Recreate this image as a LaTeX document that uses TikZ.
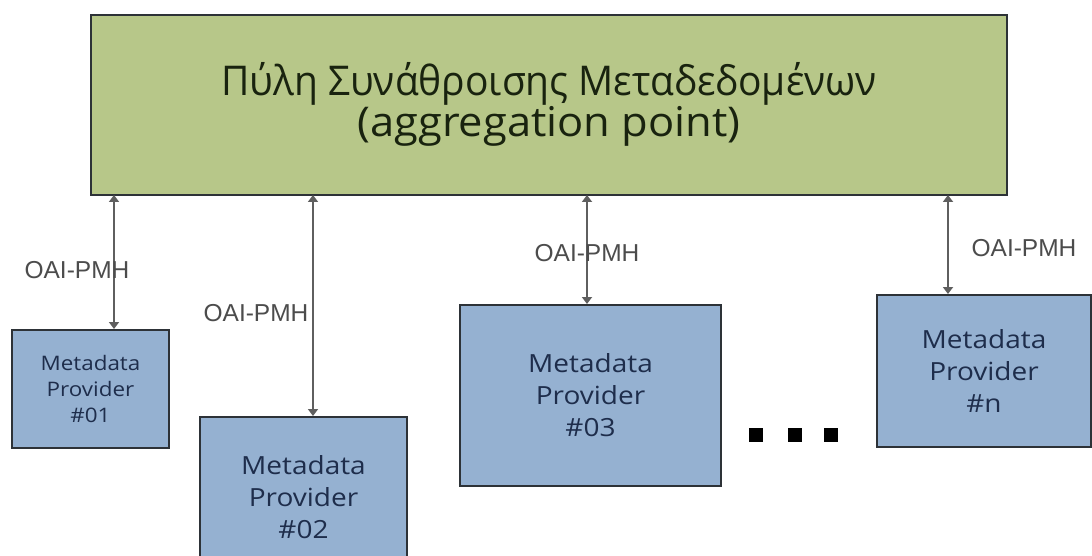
\documentclass[tikz,border=0pt]{standalone}
\usepackage{fontspec}
\setmainfont{Open Sans}
\newfontfamily\titlefont[FakeStretch=0.95]{Open Sans}
\newfontfamily\titlefontb[FakeStretch=1.06]{Open Sans}
\newfontfamily\provfont[FakeStretch=1.12]{Open Sans}
\newfontfamily\labfont{Liberation Sans}
\usetikzlibrary{arrows.meta}
\definecolor{topgreen}{RGB}{183,199,137}
\definecolor{provblue}{RGB}{149,177,209}
\definecolor{provtext}{RGB}{30,45,75}
\definecolor{arrowgray}{RGB}{95,95,95}
\definecolor{boxborder}{RGB}{45,50,55}
\definecolor{titletext}{RGB}{25,35,15}
\begin{document}
\begin{tikzpicture}[x=1pt,y=-1pt,
  topbox/.style={draw=boxborder, line width=2pt, fill=topgreen, inner sep=0pt},
  titletxt/.style={align=center, text=titletext, inner sep=0pt, font=\titlefont\fontsize{41}{38}\selectfont},
  provbox/.style={draw=boxborder, line width=2pt, fill=provblue, inner sep=0pt, align=center, text=provtext},
  link/.style={draw=arrowgray, line width=1.8pt, {Triangle[width=10pt,length=7pt]}-{Triangle[width=10pt,length=7pt]}},
  proto/.style={font=\labfont\fontsize{24.5}{28}\selectfont, text=black!70, inner sep=1pt},
  dotsq/.style={fill=black, minimum size=14pt, inner sep=0pt}
]
\useasboundingbox (0,0) rectangle (1092,556);
\fill[white] (0,0) rectangle (1092,556);

\node[topbox, minimum width=916pt, minimum height=180pt] (top) at (549,105) {};
\node[titletxt] (title) at (549,104) {Πύλη Συνάθροισης Μεταδεδομένων\\{\titlefontb(aggregation point)}};

\node[provbox, minimum width=157pt, minimum height=118pt, font=\provfont\fontsize{20}{26}\selectfont] (p1) at (90.5,389) {Metadata\\Provider\\\#01};
\node[provbox, minimum width=207pt, minimum height=160pt, font=\provfont\fontsize{25}{32}\selectfont, anchor=north] (p2) at (303.5,416) {Metadata\\Provider\\\#02};
\node[provbox, minimum width=261pt, minimum height=181pt, font=\provfont\fontsize{25}{32}\selectfont] (p3) at (590.5,395.5) {Metadata\\Provider\\\#03};
\node[provbox, minimum width=214pt, minimum height=152pt, font=\provfont\fontsize{25}{32}\selectfont] (pn) at (984,371) {Metadata\\Provider\\\#n};

\coordinate (t1) at (114,195);
\coordinate (t2) at (313,195);
\coordinate (t3) at (587,195);
\coordinate (tn) at (948,195);
\draw[link] (t1) -- (t1 |- p1.north);
\draw[link] (t2) -- (t2 |- p2.north);
\draw[link] (t3) -- (t3 |- p3.north);
\draw[link] (tn) -- (tn |- pn.north);

\node[proto] (l1) at (77,270) {OAI-PMH};
\node[proto] (l2) at (256,313) {OAI-PMH};
\node[proto] (l3) at (587,253) {OAI-PMH};
\node[proto] (ln) at (1024,248) {OAI-PMH};

\node[dotsq] (d1) at (755.5,434.5) {};
\node[dotsq] (d2) at (794.5,434.5) {};
\node[dotsq] (d3) at (830.5,434.5) {};
\end{tikzpicture}
\end{document}
